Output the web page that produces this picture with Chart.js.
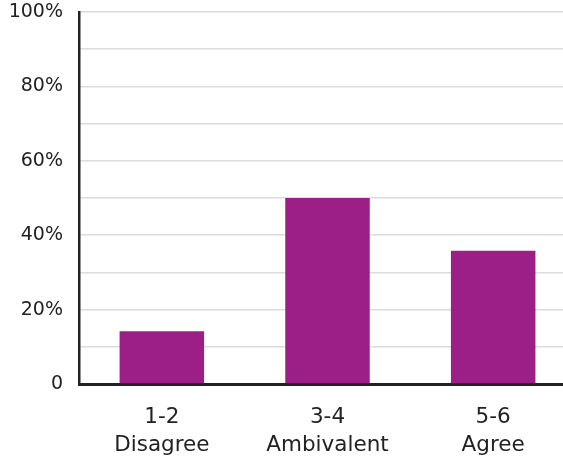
<!DOCTYPE html>
<html>
<head>
<meta charset="utf-8">
<script src="https://cdn.jsdelivr.net/npm/chart.js@4"></script>
<style>
  html, body { margin: 0; padding: 0; background: #fff; overflow: hidden; }
  #wrap { width: 576px; height: 461px; }
</style>
</head>
<body>
<div id="wrap"><canvas id="chart" width="576" height="461"></canvas></div>
<script>
// Данные графика
const categories = [['1-2', 'Disagree'], ['3-4', 'Ambivalent'], ['5-6', 'Agree']];
const values = [14.2, 50, 35.8];
const yTickLabels = {0: '0', 20: '20%', 40: '40%', 60: '60%', 80: '80%', 100: '100%'};

const ctx = document.getElementById('chart').getContext('2d');
new Chart(ctx, {
    type: 'bar',
    data: {
        labels: categories,
        datasets: [{
            data: values,
            backgroundColor: '#9B1F87',
            barPercentage: 0.51,
            categoryPercentage: 1
        }]
    },
    options: {
        responsive: false,
        animation: false,
        layout: { padding: { top: 12, left: 0, right: 0, bottom: 0 } },
        plugins: {
            legend: { display: false },
            tooltip: { enabled: false }
        },
        scales: {
            x: {
                grid: { display: false },
                border: { color: '#222', width: 3 },
                ticks: {
                    color: '#222',
                    font: { family: 'DejaVu Sans', size: 21.5, lineHeight: 1.3 },
                    padding: 11,
                    maxRotation: 0
                },
                afterFit: function(scale) { scale.height = 77; }
            },
            y: {
                min: 0,
                max: 100,
                grid: { color: '#dcdcdc', lineWidth: 1.5, drawTicks: false },
                border: { color: '#222', width: 2.5 },
                ticks: {
                    stepSize: 10,
                    color: '#222',
                    padding: 16,
                    font: { family: 'DejaVu Sans', size: 19 },
                    callback: function(v) { return yTickLabels[v] !== undefined ? yTickLabels[v] : ''; }
                },
                afterFit: function(scale) {
                    scale.width = 79;
                    scale.paddingTop = 0;
                    scale.paddingBottom = 0;
                }
            }
        }
    }
});
</script>
</body>
</html>
